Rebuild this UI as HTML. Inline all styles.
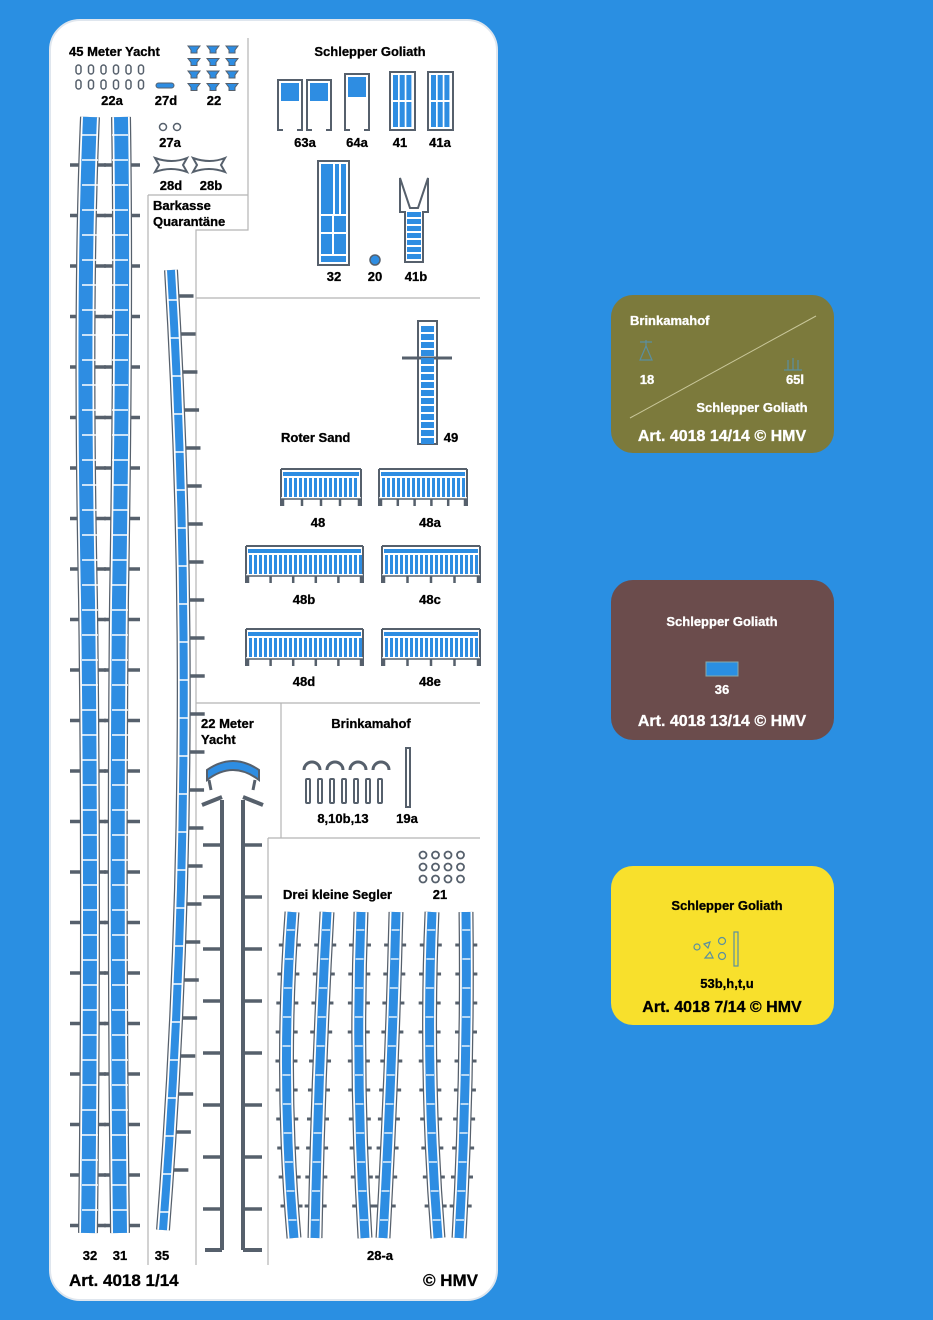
<!DOCTYPE html>
<html><head><meta charset="utf-8"><style>
html,body{margin:0;padding:0;background:#2a8fe2;}
svg{display:block}
text{font-family:"Liberation Sans",sans-serif;font-weight:bold;}
</style></head><body>
<svg id="s" width="933" height="1320" viewBox="0 0 933 1320" xmlns="http://www.w3.org/2000/svg">
<rect width="933" height="1320" fill="#2a8fe2"/>
<rect x="50" y="20" width="447" height="1280" rx="30" fill="#fff" stroke="#dfe6ee" stroke-width="2"/>
<g stroke="#b5b5b5" stroke-width="1.2" fill="none">
<path d="M248 38V230H196V1265M148 195H248M148 195V1265M196 298H480M196 703H480M281 703V838M268 838H480M268 838V1265"/>
</g>
<g id="parts"></g>
<g fill="#000" font-size="13" stroke="#000" stroke-width="0.3">
<text x="69" y="56">45 Meter Yacht</text>
<text x="370" y="56" text-anchor="middle">Schlepper Goliath</text>
<text x="112" y="105" text-anchor="middle">22a</text>
<text x="166" y="105" text-anchor="middle">27d</text>
<text x="214" y="105" text-anchor="middle">22</text>
<text x="170" y="147" text-anchor="middle">27a</text>
<text x="171" y="190" text-anchor="middle">28d</text>
<text x="211" y="190" text-anchor="middle">28b</text>
<text x="153" y="210">Barkasse</text>
<text x="153" y="226">Quarantäne</text>
<text x="305" y="147" text-anchor="middle">63a</text>
<text x="357" y="147" text-anchor="middle">64a</text>
<text x="400" y="147" text-anchor="middle">41</text>
<text x="440" y="147" text-anchor="middle">41a</text>
<text x="334" y="281" text-anchor="middle">32</text>
<text x="375" y="281" text-anchor="middle">20</text>
<text x="416" y="281" text-anchor="middle">41b</text>
<text x="281" y="442">Roter Sand</text>
<text x="451" y="442" text-anchor="middle">49</text>
<text x="318" y="527" text-anchor="middle">48</text>
<text x="430" y="527" text-anchor="middle">48a</text>
<text x="304" y="604" text-anchor="middle">48b</text>
<text x="430" y="604" text-anchor="middle">48c</text>
<text x="304" y="686" text-anchor="middle">48d</text>
<text x="430" y="686" text-anchor="middle">48e</text>
<text x="201" y="728">22 Meter</text>
<text x="201" y="744">Yacht</text>
<text x="371" y="728" text-anchor="middle">Brinkamahof</text>
<text x="343" y="823" text-anchor="middle">8,10b,13</text>
<text x="407" y="823" text-anchor="middle">19a</text>
<text x="283" y="899">Drei kleine Segler</text>
<text x="440" y="899" text-anchor="middle">21</text>
<text x="90" y="1260" text-anchor="middle">32</text>
<text x="120" y="1260" text-anchor="middle">31</text>
<text x="162" y="1260" text-anchor="middle">35</text>
<text x="380" y="1260" text-anchor="middle">28-a</text>
<text x="69" y="1286" font-size="17">Art. 4018 1/14</text>
<text x="478" y="1286" font-size="17" text-anchor="end">© HMV</text>
</g>
<rect x="611" y="295" width="223" height="158" rx="22" fill="#7c7a3c"/>
<line x1="630" y1="418" x2="816" y2="316" stroke="#c9c79a" stroke-width="1"/>
<path d="M640 342h12M646 340v6l-6 14h12l-6-14" stroke="#5a8fa0" fill="none" stroke-width="1.2"/>
<path d="M788 370v-10M793 370v-12M798 370v-10M784 370h18" stroke="#5a8fa0" fill="none" stroke-width="1.2"/>
<g fill="#fff" font-size="13" stroke="#fff" stroke-width="0.3">
<text x="630" y="325">Brinkamahof</text>
<text x="647" y="384" text-anchor="middle">18</text>
<text x="795" y="384" text-anchor="middle">65l</text>
<text x="752" y="412" text-anchor="middle">Schlepper Goliath</text>
<text x="722" y="441" text-anchor="middle" font-size="16">Art. 4018 14/14 © HMV</text>
</g>
<rect x="611" y="580" width="223" height="160" rx="22" fill="#6b4c4c"/>
<rect x="706" y="662" width="32" height="14" fill="#2a8fe2" stroke="#8aa" stroke-width="1"/>
<g fill="#fff" font-size="13" stroke="#fff" stroke-width="0.3">
<text x="722" y="626" text-anchor="middle">Schlepper Goliath</text>
<text x="722" y="694" text-anchor="middle">36</text>
<text x="722" y="726" text-anchor="middle" font-size="16">Art. 4018 13/14 © HMV</text>
</g>
<rect x="611" y="866" width="223" height="159" rx="22" fill="#f8e02c"/>
<g stroke="#5a8fa0" fill="none" stroke-width="1.2">
<circle cx="697" cy="947" r="3"/><circle cx="722" cy="941" r="3.5"/><circle cx="722" cy="956" r="3.5"/><path d="M704 944l6-2 -2 6zM705 958l5-6 3 6z"/><rect x="734" y="932" width="4" height="34"/>
</g>
<g fill="#000" font-size="13" stroke="#000" stroke-width="0.3">
<text x="727" y="910" text-anchor="middle">Schlepper Goliath</text>
<text x="727" y="988" text-anchor="middle">53b,h,t,u</text>
<text x="722" y="1012" text-anchor="middle" font-size="16">Art. 4018 7/14 © HMV</text>
</g>
</svg>
<script>
var NS="http://www.w3.org/2000/svg",P=document.getElementById("parts"),G="#56606c",B="#2e8de2";
function el(t,a){var e=document.createElementNS(NS,t);for(var k in a)e.setAttribute(k,a[k]);P.appendChild(e);return e;}
function strip(d,w){el("path",{d:d,fill:"none",stroke:G,"stroke-width":w+4});el("path",{d:d,fill:"none",stroke:"#fff","stroke-width":w+1.5});el("path",{d:d,fill:"none",stroke:B,"stroke-width":w-2});}
function ln(x1,y1,x2,y2,w,c){el("line",{x1:x1,y1:y1,x2:x2,y2:y2,stroke:c||G,"stroke-width":w||3});}
function qx(x0,cx,x1,t){return (1-t)*(1-t)*x0+2*t*(1-t)*cx+t*t*x1;}
for(var y=165;y<1240;y+=50.5){ln(70,y,106,y,3.5);ln(104,y,140,y,3.5);}
strip("M90 117 Q82 300 88 600 Q92 900 88 1233",16);
strip("M121 117 Q124 300 119 600 Q116 900 120 1233",16);
for(var y=135;y<1235;y+=25){ln(82,y,98,y,1.5,"#fff");ln(112,y,128,y,1.5,"#fff");}
// 35
(function(){var x0=171,cx=200,x1=163,y0=270,y1=1230;
for(var y=296;y<1200;y+=38){var x=qx(x0,cx,x1,(y-y0)/(y1-y0));ln(x+5,y,x+21,y,3.5);}
strip("M"+x0+" "+y0+" Q"+cx+" 750 "+x1+" "+y1,10);
for(var y=300;y<1220;y+=38){var x=qx(x0,cx,x1,(y-y0)/(y1-y0));ln(x-5,y,x+5,y,1.5,"#fff");}})();
// 22 meter yacht
ln(222,800,222,1250,4);ln(243,800,243,1250,4);ln(202,805,222,797,4);ln(243,797,263,805,4);
for(var y=845;y<1250;y+=52){ln(203,y,222,y,3.5);ln(243,y,262,y,3.5);}
ln(205,1250,222,1250,4);ln(243,1250,262,1250,4);
el("path",{d:"M207 780 Q233 760 259 780 L259 770 Q233 752 207 770Z",fill:B,stroke:G,"stroke-width":2});
ln(209,780,211,790,3);ln(255,780,253,790,3);
// segler
var sx=[292,327,361,396,432,466],ex=[294,315,365,383,438,459],cxs=[280,318,355,392,425,468];
for(var i=0;i<6;i++){var x0=sx[i],x1=ex[i],cx=cxs[i];
 for(var y=945;y<1235;y+=29){var xx=qx(x0,cx,x1,(y-912)/326);ln(xx-11,y,xx+11,y,3);}
 strip("M"+x0+" 912 Q"+cx+" 1075 "+x1+" 1238",11);
 for(var y=930;y<1235;y+=29){var xx=qx(x0,cx,x1,(y-912)/326);ln(xx-4,y,xx+4,y,1.3,"#fff");}
}
for(var r=0;r<2;r++)for(var i=0;i<6;i++)el("rect",{x:76+i*12.5,y:65+r*15,width:5,height:9,rx:2.5,fill:"none",stroke:G,"stroke-width":1.5});
el("rect",{x:156,y:83,width:18,height:5,rx:2.5,fill:B,stroke:G,"stroke-width":1});
for(var r=0;r<4;r++)for(var i=0;i<3;i++)el("path",{d:"M"+(188+i*19)+" "+(46+r*12.5)+"h12l-3 4v3h-6v-3z",fill:B,stroke:G,"stroke-width":1});
el("circle",{cx:163,cy:127,r:3.5,fill:"none",stroke:G,"stroke-width":1.5});el("circle",{cx:177,cy:127,r:3.5,fill:"none",stroke:G,"stroke-width":1.5});
[155,193].forEach(function(x){el("path",{d:"M"+x+" 158 q17 6 32 0 l-4 7 4 7 q-16-6-32 0 l4-7z",fill:"#fff",stroke:G,"stroke-width":2});});
function door(x,y,w,h){el("rect",{x:x,y:y,width:w,height:h,fill:"#fff",stroke:G,"stroke-width":2});}
[[278,80],[307,80]].forEach(function(p){door(p[0],p[1],24,50);el("rect",{x:p[0]+3,y:p[1]+3,width:18,height:18,fill:B});el("rect",{x:p[0]+5,y:p[1]+23,width:14,height:28,fill:"#fff"});});
door(345,74,24,56);el("rect",{x:348,y:77,width:18,height:20,fill:B});el("rect",{x:350,y:99,width:14,height:32,fill:"#fff"});
[390,428].forEach(function(x){door(x,72,25,58);for(var i=0;i<3;i++){el("rect",{x:x+3+i*6.7,y:75,width:5,height:25,fill:B});el("rect",{x:x+3+i*6.7,y:102,width:5,height:25,fill:B});}});
door(318,161,31,104);el("rect",{x:321,y:164,width:12,height:50,fill:B});el("rect",{x:335,y:164,width:4,height:50,fill:B});el("rect",{x:341,y:164,width:5,height:50,fill:B});
el("rect",{x:321,y:216,width:11,height:16,fill:B});el("rect",{x:334,y:216,width:12,height:16,fill:B});el("rect",{x:321,y:234,width:11,height:20,fill:B});el("rect",{x:334,y:234,width:12,height:20,fill:B});el("rect",{x:321,y:256,width:25,height:6,fill:B});
el("circle",{cx:375,cy:260,r:5,fill:B,stroke:G,"stroke-width":1.5});
el("path",{d:"M400 178l10 30 8 0 10-30 0 34-5 0 0 50-18 0 0-50-5 0z",fill:"#fff",stroke:G,"stroke-width":2});
for(var y=212;y<260;y+=7)el("rect",{x:407,y:y,width:14,height:5,fill:B});
el("rect",{x:418,y:321,width:19,height:123,fill:"#fff",stroke:G,"stroke-width":2});ln(402,358,452,358,3);
for(var y=326;y<442;y+=8)el("rect",{x:421,y:y,width:13,height:6,fill:B});
function rail(x,y,w,n){el("rect",{x:x,y:y,width:w,height:33,fill:"#fff"});ln(x,y,x+w,y,2);ln(x,y,x,y+37,2);ln(x+w,y,x+w,y+37,2);
 el("rect",{x:x+2,y:y+3,width:w-4,height:4,fill:B});
 for(var i=0;i<(w-6)/5;i++)el("rect",{x:x+3+i*5,y:y+9,width:3,height:19,fill:B});
 ln(x,y+29,x+w,y+29,1.5,"#fff");ln(x,y+30,x+w,y+30,1.5,G);
 for(var i=0;i<=n;i++){var xx=x+2+i*(w-4)/n;ln(xx,y+30,xx,y+37,2.5);}}
rail(281,469,80,4);rail(379,469,88,5);rail(246,546,117,5);rail(382,546,98,4);rail(246,629,117,5);rail(382,629,98,4);
for(var i=0;i<4;i++)el("path",{d:"M"+(304+i*23)+" 770 a8 8 0 0 1 16 0",fill:"none",stroke:G,"stroke-width":3});
for(var i=0;i<7;i++)el("rect",{x:306+i*12,y:779,width:4,height:24,rx:1,fill:"#fff",stroke:G,"stroke-width":2});
el("rect",{x:406,y:748,width:4,height:59,fill:"#fff",stroke:G,"stroke-width":2});
for(var r=0;r<3;r++)for(var i=0;i<4;i++)el("circle",{cx:423+i*12.5,cy:855+r*12,r:3.5,fill:"none",stroke:G,"stroke-width":1.8});
</script>
</body></html>
